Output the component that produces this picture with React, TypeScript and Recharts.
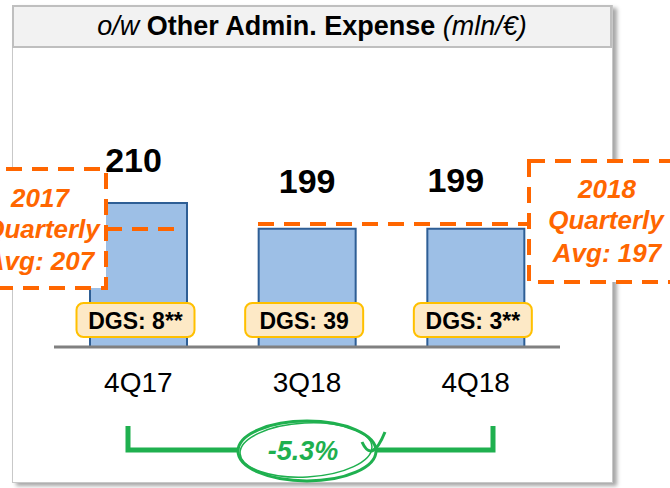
import React from "react";
import { Bar, BarChart, LabelList, XAxis, YAxis } from "recharts";

const quarters = ["4Q17", "3Q18", "4Q18"];
const expense = [210, 199, 199];
const dgsLabels = ["8**", "39", "3**"];

const avg2017 = 207;
const avg2018 = 197;
const changeLabel = "-5.3%";

const FONT = "'Liberation Sans', Arial, Helvetica, sans-serif";
const ORANGE = "#ff6600";
const GREEN = "#1fb04f";

// small per-label nudges so the value labels sit where the original put them
const VALUE_NUDGE = [
    { dx: -5, dy: -31 },
    { dx: 0, dy: -36 },
    { dx: -20, dy: -37 },
];

const data = quarters.map((q, i) => ({ quarter: q, value: expense[i], dgs: `DGS: ${dgsLabels[i]}` }));

function ValueLabel(props: any) {
    const { x, y, width, value, index } = props;
    const n = VALUE_NUDGE[index] ?? { dx: 0, dy: -34 };
    return (
        <text
            x={Number(x) + Number(width) / 2 + n.dx}
            y={Number(y) + n.dy}
            textAnchor="middle"
            fontFamily={FONT}
            fontWeight="bold"
            fontSize={34}
            fill="#000"
        >
            {value}
        </text>
    );
}

function DgsLabel(props: any) {
    const { x, y, width, height, value } = props;
    const cx = Number(x) + Number(width) / 2 - 3;
    const bottom = Number(y) + Number(height);
    return (
        <g>
            <rect x={cx - 59} y={bottom - 44} width={118} height={34} rx={7} fill="#fde9c6" stroke="#ffc000" strokeWidth={2} />
            <text x={cx} y={bottom - 18} textAnchor="middle" fontFamily={FONT} fontWeight="bold" fontSize={23} fill="#000">
                {value}
            </text>
        </g>
    );
}

function Annotations() {
    const boxText = { fontFamily: FONT, fontWeight: "bold" as const, fontStyle: "italic" as const, fontSize: 26, fill: ORANGE };
    return (
        <svg width={670} height={488} style={{ position: "absolute", left: 0, top: 0, pointerEvents: "none" }}>
            {/* average lines */}
            <line x1={106} y1={229} x2={183} y2={229} stroke={ORANGE} strokeWidth={4} strokeDasharray="16 10" />
            <line x1={258} y1={224} x2={529} y2={224} stroke={ORANGE} strokeWidth={4} strokeDasharray="16 10" />

            {/* 2017 box, cut by the left edge like the original */}
            <rect x={-20} y={169} width={126} height={119} fill="#fff" stroke={ORANGE} strokeWidth={4} strokeDasharray="16 10" />
            <text x={40} y={207} textAnchor="middle" {...boxText}>2017</text>
            <text x={42} y={238} textAnchor="middle" {...boxText}>Quarterly</text>
            <text x={40} y={270} textAnchor="middle" {...boxText}>{`Avg: ${avg2017}`}</text>

            {/* 2018 box */}
            <rect x={529} y={161} width={160} height={121} fill="#fff" stroke={ORANGE} strokeWidth={4} strokeDasharray="16 10" />
            <text x={607} y={198} textAnchor="middle" {...boxText}>2018</text>
            <text x={606} y={229} textAnchor="middle" {...boxText}>Quarterly</text>
            <text x={607} y={262} textAnchor="middle" {...boxText}>{`Avg: ${avg2018}`}</text>

            {/* change bracket */}
            <path d="M128,426 V450 H493 V426" fill="none" stroke={GREEN} strokeWidth={5} />
            <ellipse cx={307} cy={451} rx={69} ry={30} fill="#fff" stroke={GREEN} strokeWidth={3} />
            <ellipse cx={306} cy={450} rx={66} ry={27} fill="none" stroke={GREEN} strokeWidth={1.5} transform="rotate(-3 306 450)" />
            <path d="M362,442 Q372,464 385,432" fill="none" stroke={GREEN} strokeWidth={3} />
            <text
                x={303}
                y={460}
                textAnchor="middle"
                fontFamily={FONT}
                fontWeight="bold"
                fontStyle="italic"
                fontSize={27}
                fill={GREEN}
            >
                {changeLabel}
            </text>
        </svg>
    );
}

export default function App() {
    return (
        <div style={{ position: "absolute", left: 0, top: 0, width: 670, height: 488, overflow: "hidden", background: "#fff" }}>
            <div
                style={{
                    position: "absolute",
                    left: 12,
                    top: 5,
                    width: 601,
                    height: 478,
                    boxSizing: "border-box",
                    border: "1.5px solid #c8c8c8",
                    background: "#fff",
                    boxShadow: "4px 3px 4px rgba(0,0,0,0.35)",
                }}
            />
            <div
                style={{
                    position: "absolute",
                    left: 12,
                    top: 5,
                    width: 600,
                    height: 43,
                    boxSizing: "border-box",
                    border: "2px solid #bfbfbf",
                    background: "#f2f2f2",
                    fontFamily: FONT,
                    fontSize: 27,
                    lineHeight: "39px",
                    textAlign: "center",
                    color: "#000",
                    whiteSpace: "nowrap",
                }}
            >
                <i>o/w</i> <b>Other Admin. Expense</b> <i>(mln/€)</i>
            </div>
            <div style={{ position: "absolute", left: 0, top: 0 }}>
                <BarChart width={670} height={488} data={data} margin={{ top: 132, right: 110, bottom: 81, left: 54 }}>
                    <YAxis hide domain={[149, 240]} allowDataOverflow />
                    <XAxis
                        dataKey="quarter"
                        height={60}
                        tickLine={false}
                        tickSize={0}
                        tickMargin={25}
                        axisLine={{ stroke: "#808080", strokeWidth: 3 }}
                        tick={{ fontSize: 28, fill: "#000", fontFamily: FONT }}
                    />
                    <Bar dataKey="value" barSize={97} fill="#9dbfe6" stroke="#2e5e95" strokeWidth={2} isAnimationActive={false}>
                        <LabelList dataKey="value" content={<ValueLabel />} />
                        <LabelList dataKey="dgs" content={<DgsLabel />} />
                    </Bar>
                </BarChart>
            </div>
            <Annotations />
        </div>
    );
}
